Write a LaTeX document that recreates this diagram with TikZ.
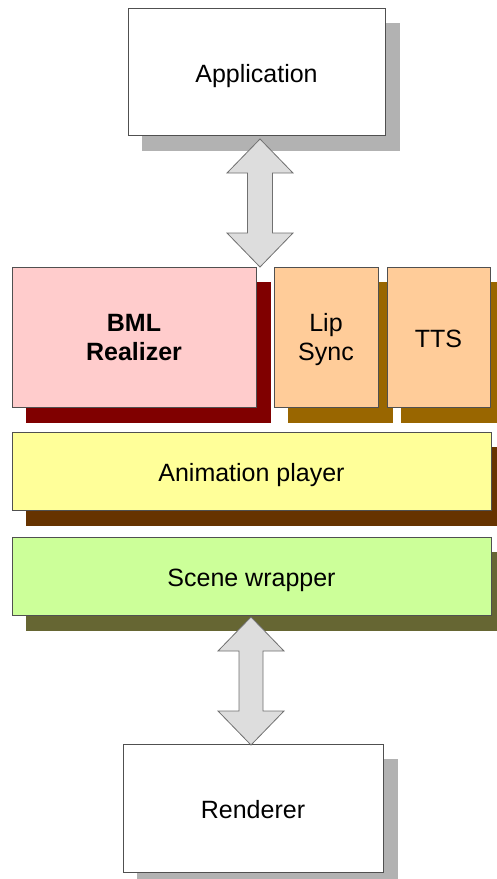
\documentclass[tikz,border=0pt]{standalone}
\usepackage{fontspec}
\setmainfont{Liberation Sans}
\usetikzlibrary{calc}
\pgfdeclarelayer{background}
\pgfsetlayers{background,main}
\definecolor{boxline}{HTML}{505050}
\definecolor{shwhite}{HTML}{B2B2B2}
\definecolor{shbml}{HTML}{800000}
\definecolor{shlip}{HTML}{996600}
\definecolor{shanim}{HTML}{663300}
\definecolor{shscene}{HTML}{666633}
\definecolor{fbml}{HTML}{FFCCCC}
\definecolor{flip}{HTML}{FFCC99}
\definecolor{fanim}{HTML}{FFFF99}
\definecolor{fscene}{HTML}{CCFF99}
\definecolor{arrfill}{HTML}{DDDDDD}
\definecolor{arrline}{HTML}{707070}
\tikzset{
  blk/.style={draw=boxline, line width=1pt, rectangle, inner sep=0pt, align=center,
    font=\fontsize{25}{29}\selectfont},
  one/.style={text height=21pt, text depth=0pt},
  two/.style={text depth=0pt},
  bigarrow/.style={fill=arrfill, draw=arrline, line width=0.8pt, line join=miter},
}
\newcommand{\shadowof}[2]{\fill[#2] ($(#1.south west)+(14,15)$) rectangle ($(#1.north east)+(14,15)$);}
\begin{document}
\begin{tikzpicture}[x=1pt,y=-1pt]
\useasboundingbox (0,0) rectangle (497,879);
\path
  node[blk, one, minimum width=257, minimum height=127, fill=white] (app) at (256.5,71.5) {Application}
  node[blk, two, minimum width=244, minimum height=140, fill=fbml, font=\fontsize{25}{29}\selectfont\bfseries] (bml) at (134,337) {BML\\Realizer}
  node[blk, two, minimum width=104, minimum height=140, fill=flip] (lip) at (326,337) {Lip\\Sync}
  node[blk, one, minimum width=103, minimum height=140, fill=flip] (tts) at (438.5,337) {TTS}
  node[blk, one, minimum width=479, minimum height=78, fill=fanim] (anim) at (251.5,471) {Animation player}
  node[blk, one, minimum width=479, minimum height=78, fill=fscene] (scene) at (251.5,576) {Scene wrapper}
  node[blk, one, minimum width=260, minimum height=128, fill=white] (rend) at (253,808) {Renderer};
\begin{pgfonlayer}{background}
\shadowof{app}{shwhite}
\shadowof{bml}{shbml}
\shadowof{lip}{shlip}
\shadowof{tts}{shlip}
\shadowof{anim}{shanim}
\shadowof{scene}{shscene}
\shadowof{rend}{shwhite}
\end{pgfonlayer}
% block arrows
\coordinate (a1t) at (260,139);
\coordinate (a1b) at (260,267);
\draw[bigarrow] (a1t) -- ++(33,34) -- ++(-20.5,0) |- ($(a1b)+(12.5,-34)$) -- ++(20.5,0) -- (a1b)
  -- ++(-33,-34) -- ++(20.5,0) |- ($(a1t)+(-12.5,34)$) -- ++(-20.5,0) -- cycle;
\coordinate (a2t) at (251,617);
\coordinate (a2b) at (251,745);
\draw[bigarrow] (a2t) -- ++(33,34) -- ++(-21,0) |- ($(a2b)+(12,-34)$) -- ++(21,0) -- (a2b)
  -- ++(-33,-34) -- ++(21,0) |- ($(a2t)+(-12,34)$) -- ++(-21,0) -- cycle;
\end{tikzpicture}
\end{document}
